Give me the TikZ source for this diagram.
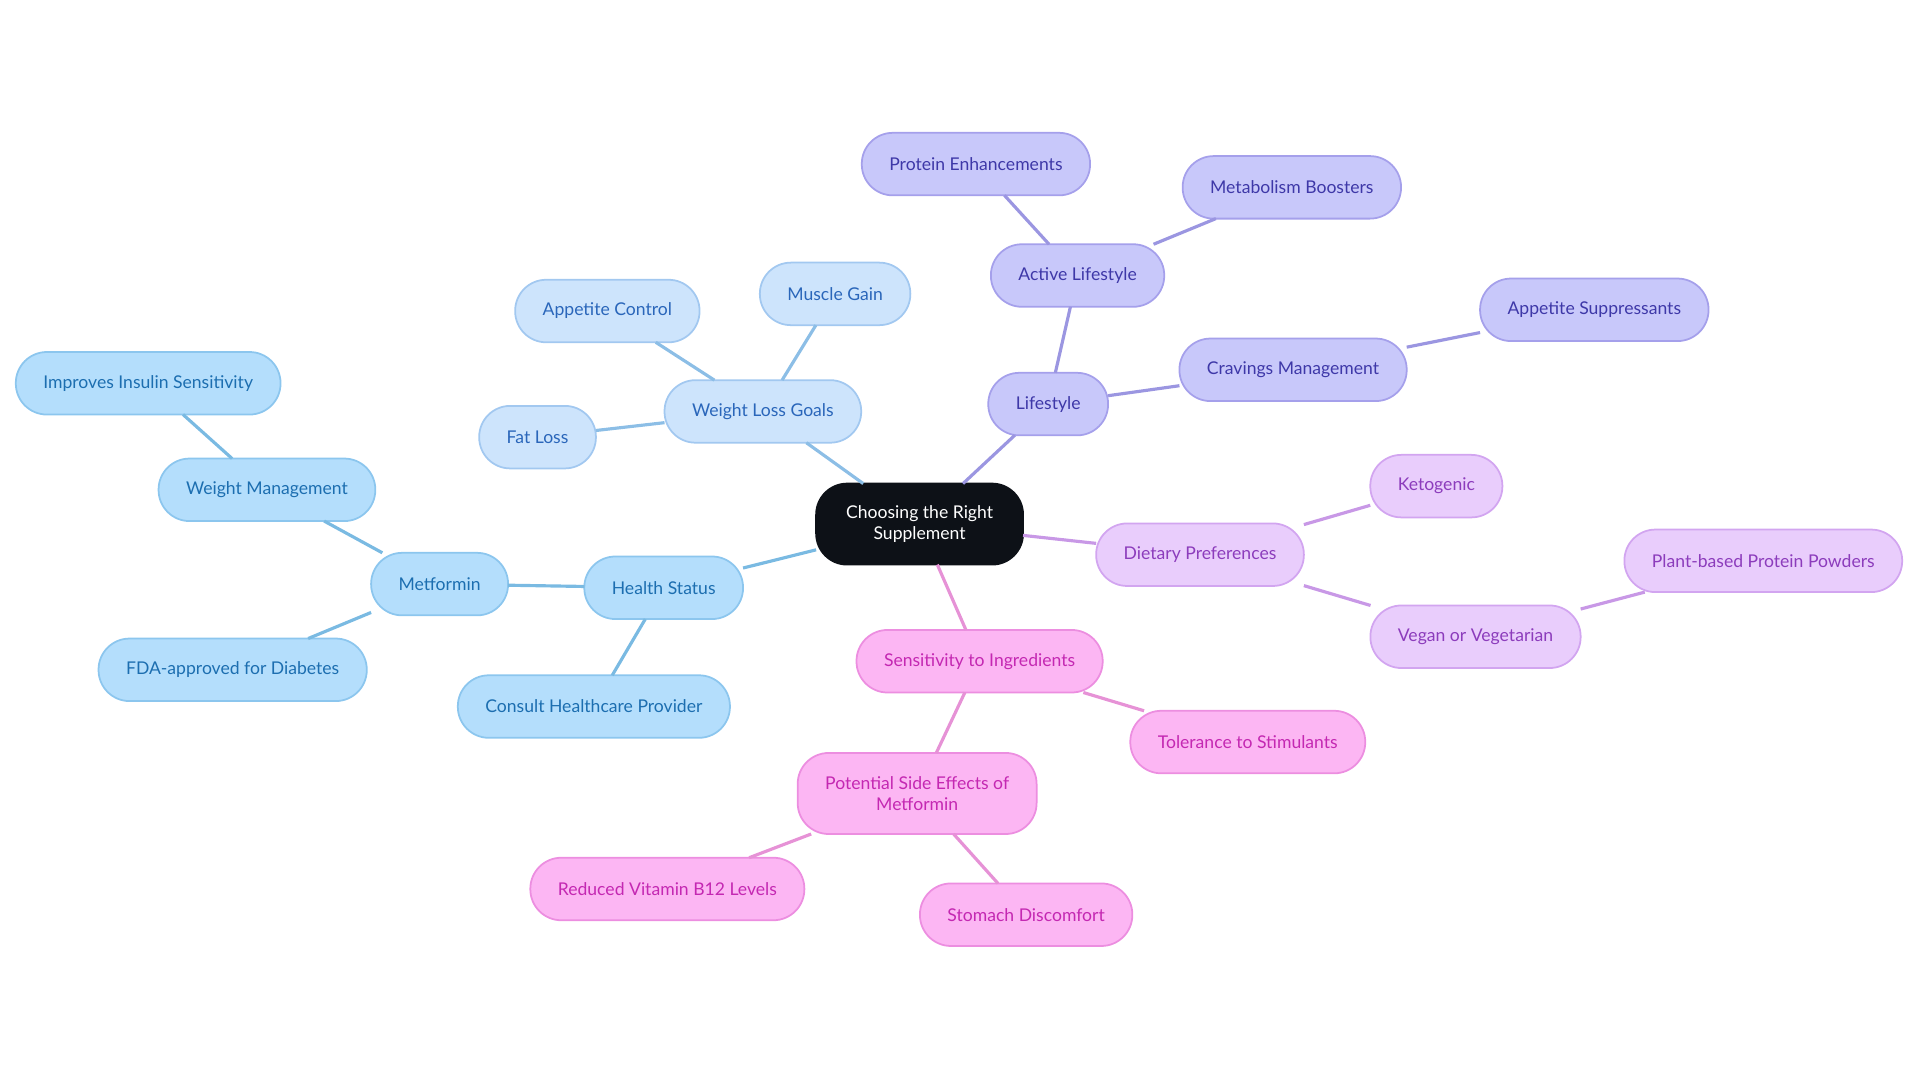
\documentclass[tikz,border=0pt]{standalone}
\usepackage{fontspec}
\setmainfont{Lato}
\definecolor{rootfill}{RGB}{13,17,23}
\definecolor{hsfill}{RGB}{180,222,252}
\definecolor{hsdraw}{RGB}{140,198,238}
\definecolor{hstext}{RGB}{28,110,176}
\definecolor{hsline}{RGB}{122,186,226}
\definecolor{wlfill}{RGB}{205,228,252}
\definecolor{wldraw}{RGB}{162,200,240}
\definecolor{wltext}{RGB}{42,102,186}
\definecolor{wlline}{RGB}{140,190,230}
\definecolor{lsfill}{RGB}{200,200,250}
\definecolor{lsdraw}{RGB}{165,160,235}
\definecolor{lstext}{RGB}{62,56,168}
\definecolor{lsline}{RGB}{155,150,225}
\definecolor{dpfill}{RGB}{233,205,252}
\definecolor{dpdraw}{RGB}{210,165,240}
\definecolor{dptext}{RGB}{140,60,188}
\definecolor{dpline}{RGB}{200,152,230}
\definecolor{sifill}{RGB}{252,182,243}
\definecolor{sidraw}{RGB}{236,142,224}
\definecolor{sitext}{RGB}{196,40,178}
\definecolor{siline}{RGB}{230,146,214}

\begin{document}
\begin{tikzpicture}[x=0.012245cm,y=-0.012245cm,
  topic/.style={rounded corners=0.31cm,minimum height=0.625cm,inner xsep=0.275cm,outer sep=0pt,
    line width=0.5pt,font=\fontsize{5.0}{5.8}\selectfont,align=center},
  root/.style={topic,fill=rootfill,draw=rootfill,text=white,minimum height=0.81cm,inner xsep=0.3cm},
  hs/.style={topic,fill=hsfill,draw=hsdraw,text=hstext},
  wl/.style={topic,fill=wlfill,draw=wldraw,text=wltext},
  ls/.style={topic,fill=lsfill,draw=lsdraw,text=lstext},
  dp/.style={topic,fill=dpfill,draw=dpdraw,text=dptext},
  si/.style={topic,fill=sifill,draw=sidraw,text=sitext},
  link/.style={line width=0.9pt}]
\useasboundingbox (0,0) rectangle (1568,884.4);

% root
\node[root] (root) at (751,428) {Choosing the Right\\Supplement};

% health status branch
\node[hs] (health) at (542,480) {Health Status};
\node[hs] (metformin) at (359,477) {Metformin};
\node[hs] (weightman) at (218,400) {Weight Management};
\node[hs] (insulin) at (121,313) {Improves Insulin Sensitivity};
\node[hs] (fda) at (190,547) {FDA-approved for Diabetes};
\node[hs] (consult) at (485,577) {Consult Healthcare Provider};

% weight loss branch
\node[wl] (goals) at (623,336) {Weight Loss Goals};
\node[wl] (muscle) at (682,240) {Muscle Gain};
\node[wl] (appcontrol) at (496,254) {Appetite Control};
\node[wl] (fatloss) at (439,357) {Fat Loss};

% lifestyle branch
\node[ls] (lifestyle) at (856,330) {Lifestyle};
\node[ls] (active) at (880,225) {Active Lifestyle};
\node[ls] (protein) at (797,134) {Protein Enhancements};
\node[ls] (metab) at (1055,153) {Metabolism Boosters};
\node[ls] (cravings) at (1056,302) {Cravings Management};
\node[ls] (suppress) at (1302,253) {Appetite Suppressants};

% dietary branch
\node[dp] (dietary) at (980,453) {Dietary Preferences};
\node[dp] (keto) at (1173,397) {Ketogenic};
\node[dp] (vegan) at (1205,520) {Vegan or Vegetarian};
\node[dp] (plant) at (1440,458) {Plant-based Protein Powders};

% sensitivity branch
\node[si] (sensitivity) at (800,540) {Sensitivity to Ingredients};
\node[si] (stimulants) at (1019,606) {Tolerance to Stimulants};
\node[si,minimum height=0.81cm] (sideeff) at (749,648) {Potential Side Effects of\\Metformin};
\node[si] (vitamin) at (545,726) {Reduced Vitamin B12 Levels};
\node[si] (stomach) at (838,747) {Stomach Discomfort};

% connectors
\draw[link,hsline] (root) -- (health);
\draw[link,hsline] (health) -- (metformin);
\draw[link,hsline] (health) -- (consult);
\draw[link,hsline] (metformin) -- (weightman);
\draw[link,hsline] (metformin) -- (fda);
\draw[link,hsline] (weightman) -- (insulin);
\draw[link,wlline] (root) -- (goals);
\draw[link,wlline] (goals) -- (muscle);
\draw[link,wlline] (goals) -- (appcontrol);
\draw[link,wlline] (goals) -- (fatloss);
\draw[link,lsline] (root) -- (lifestyle);
\draw[link,lsline] (lifestyle) -- (active);
\draw[link,lsline] (lifestyle) -- (cravings);
\draw[link,lsline] (active) -- (protein);
\draw[link,lsline] (active) -- (metab);
\draw[link,lsline] (cravings) -- (suppress);
\draw[link,dpline] (root) -- (dietary);
\draw[link,dpline] (dietary) -- (keto);
\draw[link,dpline] (dietary) -- (vegan);
\draw[link,dpline] (vegan) -- (plant);
\draw[link,siline] (root) -- (sensitivity);
\draw[link,siline] (sensitivity) -- (stimulants);
\draw[link,siline] (sensitivity) -- (sideeff);
\draw[link,siline] (sideeff) -- (vitamin);
\draw[link,siline] (sideeff) -- (stomach);
\end{tikzpicture}
\end{document}
